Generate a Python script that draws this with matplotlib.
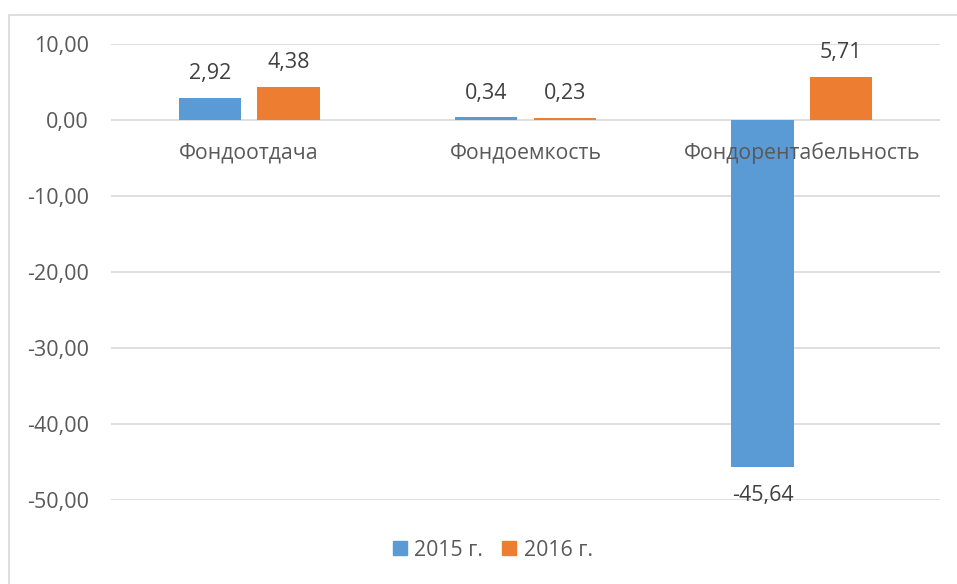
import numpy as np
import matplotlib
matplotlib.use('Agg')
import matplotlib.pyplot as plt
from matplotlib.patches import Rectangle, Patch
from matplotlib.ticker import FuncFormatter

categories = ['Фондоотдача', 'Фондоемкость', 'Фондорентабельность']
series_names = ['2015 г.', '2016 г.']
values_2015 = [2.92, 0.34, -45.64]
values_2016 = [4.38, 0.23, 5.71]
colors = ['#5B9BD5', '#ED7D31']

TEXT = '#595959'
GRID = '#D9D9D9'
plt.rcParams['font.family'] = ['Open Sans', 'DejaVu Sans']


def fmt(v):
    return f'{v:.2f}'.replace('.', ',')


fig = plt.figure(figsize=(9.57, 5.84), dpi=100)
# chart border (cut off at the right and bottom edges)
fig.patches.append(Rectangle((9 / 957, -0.1), 1.2, 1.1 - 15 / 584,
                             transform=fig.transFigure, fill=False,
                             edgecolor=GRID, linewidth=1.2))

ax = fig.add_axes([111 / 957, 1 - 500 / 584, 829 / 957, 456 / 584])
x = np.arange(len(categories))
width = 0.225
offset = 0.1425
for vals, name, col, sign in [(values_2015, series_names[0], colors[0], -1),
                              (values_2016, series_names[1], colors[1], 1)]:
    bars = ax.bar(x + sign * offset, vals, width, color=col, label=name,
                  zorder=3)
    for b, v in zip(bars, vals):
        if v >= 0:
            ax.annotate(fmt(v), (b.get_x() + b.get_width() / 2, v),
                        xytext=(0, 10), textcoords='offset points',
                        ha='center', va='bottom', fontsize=15.5,
                        color='#404040', zorder=5)
        else:
            ax.annotate(fmt(v), (b.get_x() + b.get_width() / 2, v),
                        xytext=(0, -13), textcoords='offset points',
                        ha='center', va='top', fontsize=15.5,
                        color='#404040', zorder=5)

ax.set_xlim(-0.5, 2.5)
ax.set_ylim(-50, 10)
ax.set_yticks(np.arange(-50, 11, 10))
ax.yaxis.set_major_formatter(FuncFormatter(lambda v, _p: fmt(v)))
ax.grid(axis='y', color=GRID, linewidth=1.2, zorder=0)
for s in ax.spines.values():
    s.set_visible(False)
ax.tick_params(axis='y', length=0, pad=16, labelsize=15.5, labelcolor=TEXT)
ax.set_xticks([])

for xi, cat in zip(x, categories):
    ax.annotate(cat, (xi, 0), xytext=(0, -24), textcoords='offset points',
                ha='center', va='center', fontsize=15.3, color=TEXT, zorder=5)

handles = [Patch(color=c) for c in colors]
fig.legend(handles, series_names, loc='center', bbox_to_anchor=(0.515, 1 - 550 / 584),
           ncol=2, frameon=False, fontsize=15.3, labelcolor=TEXT,
           handlelength=0.65, handleheight=0.65, handletextpad=0.35,
           columnspacing=0.9)

fig.savefig('out.png', dpi=100)
